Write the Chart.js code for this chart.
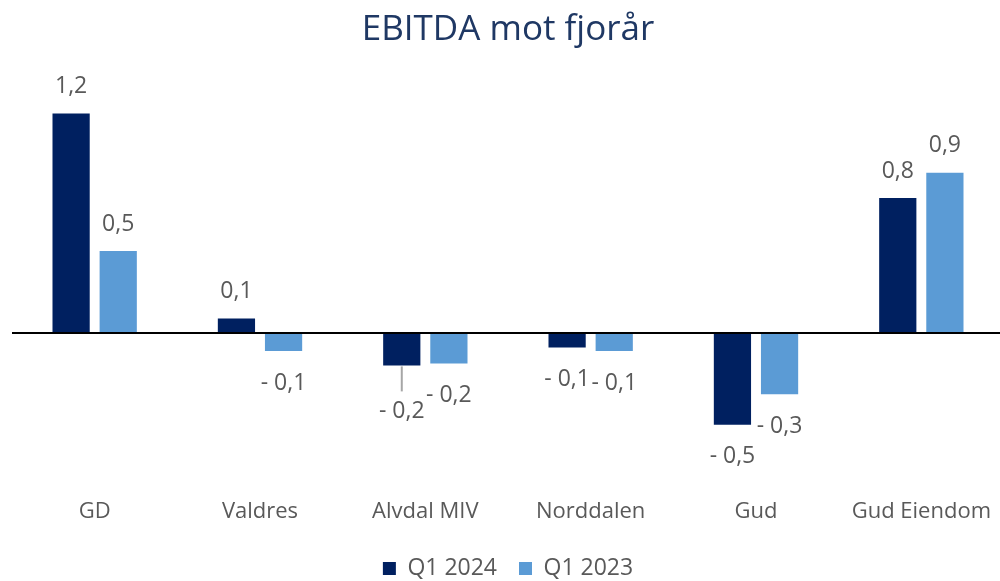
<!DOCTYPE html>
<html lang="no">
<head>
<meta charset="utf-8">
<title>EBITDA mot fjorår</title>
<script src="https://cdn.jsdelivr.net/npm/chart.js@4.4.1/dist/chart.umd.min.js"></script>
<style>
    html, body {
        margin: 0;
        padding: 0;
        background: #ffffff;
        overflow: hidden;
    }
    .chart-wrap {
        position: absolute;
        left: 0;
        top: 0;
        width: 1004px;
        height: 590px;
    }
</style>
</head>
<body>
<div class="chart-wrap">
    <canvas id="ebitdaChart"></canvas>
</div>
<script>
// Data (MNOK)
const categories = ['GD', 'Valdres', 'Alvdal MIV', 'Norddalen', 'Gud', 'Gud Eiendom'];
const seriesNames = ['Q1 2024', 'Q1 2023'];
const q1_2024 = [1.22, 0.08, -0.18, -0.08, -0.51, 0.75];
const q1_2023 = [0.455, -0.10, -0.17, -0.10, -0.34, 0.89];

const FONT = "'Open Sans', sans-serif";
const TEXT_GREY = '#595959';

// extra push (px) for labels that Excel moved out of the way
const labelNudge = [
    [0, 0, 14, 0, 0, 0],
    [0, 0, 0, 0, 0, 0]
];

function formatValue(v) {
    const s = Math.abs(v).toFixed(1).replace('.', ',');
    return v < 0 ? '- ' + s : s;
}

// Value labels above / below the bars
const valueLabels = {
    id: 'valueLabels',
    afterDatasetsDraw(chart) {
        const ctx = chart.ctx;
        ctx.save();
        ctx.font = '23px ' + FONT;
        ctx.textAlign = 'center';
        ctx.textBaseline = 'middle';
        chart.data.datasets.forEach((ds, i) => {
            chart.getDatasetMeta(i).data.forEach((bar, j) => {
                const v = ds.data[j];
                const nudge = labelNudge[i][j];
                let y;
                if (v >= 0) {
                    y = bar.y - 27 - nudge;
                } else {
                    y = bar.y + 32 + nudge;
                    if (nudge > 0) {
                        // leader line
                        ctx.strokeStyle = '#a6a6a6';
                        ctx.lineWidth = 2;
                        ctx.beginPath();
                        ctx.moveTo(bar.x, bar.y + 1);
                        ctx.lineTo(bar.x, y - 20);
                        ctx.stroke();
                    }
                }
                ctx.fillStyle = TEXT_GREY;
                ctx.fillText(formatValue(v), bar.x, y);
            });
        });
        ctx.restore();
    }
};

new Chart(document.getElementById('ebitdaChart'), {
    type: 'bar',
    data: {
        labels: categories,
        datasets: [
            {
                label: seriesNames[0],
                data: q1_2024,
                backgroundColor: '#002060',
                categoryPercentage: 0.57,
                barPercentage: 0.79
            },
            {
                label: seriesNames[1],
                data: q1_2023,
                backgroundColor: '#5b9bd5',
                categoryPercentage: 0.57,
                barPercentage: 0.79
            }
        ]
    },
    options: {
        responsive: true,
        maintainAspectRatio: false,
        animation: false,
        layout: {
            padding: { left: 12, right: 0, top: 0, bottom: 0 }
        },
        plugins: {
            title: {
                display: true,
                text: 'EBITDA mot fjorår',
                color: '#1f3864',
                font: { family: FONT, size: 35, weight: 'normal', lineHeight: 1.15 },
                padding: { top: 10, bottom: 16 }
            },
            legend: {
                position: 'bottom',
                labels: {
                    color: TEXT_GREY,
                    font: { family: FONT, size: 23 },
                    boxWidth: 13,
                    boxHeight: 13,
                    padding: 22
                }
            },
            tooltip: { enabled: false }
        },
        scales: {
            x: {
                grid: { display: false, drawTicks: false },
                border: { display: false },
                ticks: {
                    color: TEXT_GREY,
                    font: { family: FONT, size: 22 },
                    padding: 6,
                    maxRotation: 0
                },
                afterFit: function (scale) {
                    scale.height = 42;
                }
            },
            y: {
                min: -0.889,
                max: 1.482,
                ticks: { display: false },
                border: { display: false },
                grid: {
                    drawTicks: false,
                    lineWidth: 2,
                    color: function (c) {
                        return c.tick && c.tick.value === 0 ? '#000000' : 'rgba(0,0,0,0)';
                    }
                },
                afterFit: function (scale) {
                    scale.width = 0;
                }
            }
        }
    },
    plugins: [valueLabels]
});
</script>
</body>
</html>
